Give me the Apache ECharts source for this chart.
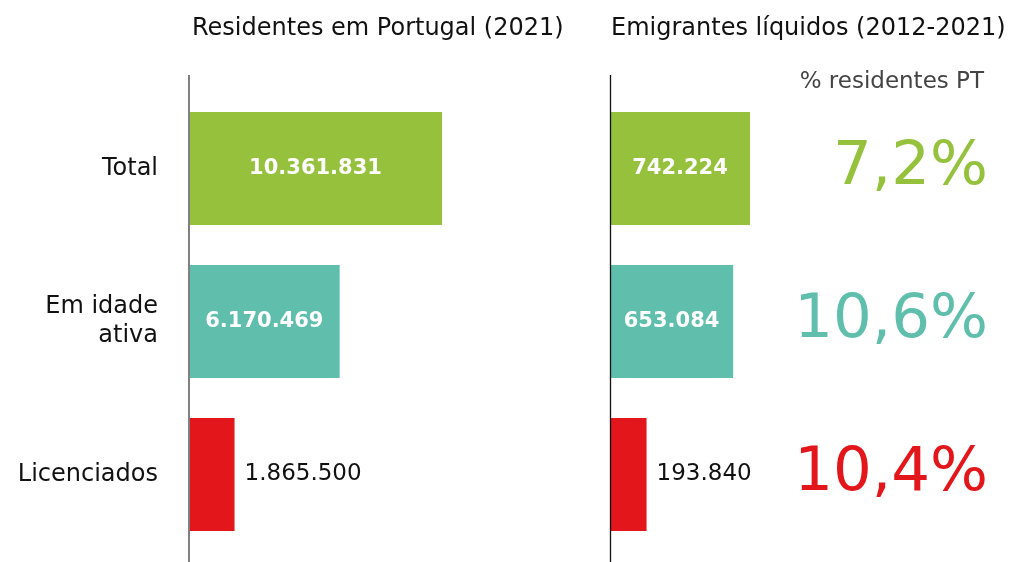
<!DOCTYPE html>
<html>
<head>
<meta charset="utf-8">
<script src="https://cdn.jsdelivr.net/npm/echarts@6/dist/echarts.min.js"></script>
<style>html,body{margin:0;padding:0;background:#fff}#c{width:1015px;height:562px}</style>
</head>
<body>
<div id="c"></div>
<script>
var categories = ['Total', 'Em idade\nativa', 'Licenciados'];
var residentes = [10361831, 6170469, 1865500];
var emigrantes = [742224, 653084, 193840];
var colors = ['#95c13d', '#5fbeac', '#e2161b'];
var titles = ['Residentes em Portugal (2021)', 'Emigrantes líquidos (2012-2021)'];
var pctTitle = '% residentes PT';

var FONT = 'DejaVu Sans';
function fmt(v){ return String(v).replace(/\B(?=(\d{3})+(?!\d))/g, '.'); }
function pct(i){ return (emigrantes[i] / residentes[i] * 100).toFixed(1).replace('.', ','); }

function barData(vals){
  var mx = Math.max.apply(null, vals);
  return vals.map(function(v, i){
    var inside = v > mx * 0.5;
    return {
      value: v,
      itemStyle: { color: colors[i] },
      label: inside ? { position: 'inside', color: '#fff', fontWeight: 'bold', fontSize: 21 }
                    : { position: 'right', distance: 10, color: '#111', fontWeight: 'normal', fontSize: 23 }
    };
  });
}

var chart = echarts.init(document.getElementById('c'), null, { renderer: 'canvas' });
var yBase = { type: 'category', data: categories, inverse: true,
  axisLine: { show: false }, axisTick: { show: false } };
var option = {
  animation: false,
  textStyle: { fontFamily: FONT },
  title: [
    { text: titles[0], left: 187, top: 12, textStyle: { fontFamily: FONT, fontSize: 24, fontWeight: 'normal', color: '#111' } },
    { text: titles[1], left: 606, top: 12, textStyle: { fontFamily: FONT, fontSize: 24, fontWeight: 'normal', color: '#111' } },
    { text: pctTitle, right: 26, top: 66, textStyle: { fontFamily: FONT, fontSize: 23, fontWeight: 'normal', color: '#444' } }
  ],
  grid: [
    { left: 189, top: 92, width: 293, height: 459 },
    { left: 610, top: 92, width: 188.6, height: 459 },
    { left: 780, top: 92, right: 27, height: 459 }
  ],
  xAxis: [
    { gridIndex: 0, type: 'value', min: 0, max: 12000000, show: false },
    { gridIndex: 1, type: 'value', min: 0, max: 1000000, show: false },
    { gridIndex: 2, type: 'value', min: 0, max: 1, show: false }
  ],
  yAxis: [
    Object.assign({ gridIndex: 0, axisLabel: { margin: 31, fontFamily: FONT, fontSize: 24, fontWeight: 'normal', color: '#111', lineHeight: 29, align: 'right' } }, yBase),
    Object.assign({ gridIndex: 1, axisLabel: { show: false } }, yBase),
    Object.assign({ gridIndex: 2, axisLabel: { show: false } }, yBase)
  ],
  series: [
    { type: 'bar', xAxisIndex: 0, yAxisIndex: 0, barWidth: 113, data: barData(residentes),
      label: { show: true, fontFamily: FONT, formatter: function(p){ return fmt(p.value); } } },
    { type: 'bar', xAxisIndex: 1, yAxisIndex: 1, barWidth: 113, data: barData(emigrantes),
      label: { show: true, fontFamily: FONT, formatter: function(p){ return fmt(p.value); } } },
    { type: 'scatter', xAxisIndex: 2, yAxisIndex: 2, symbolSize: 0, silent: true,
      itemStyle: { opacity: 1 },
      data: categories.map(function(c, i){
        return { value: [1, i], label: { color: colors[i] } };
      }),
      label: { show: true, position: 'left', distance: 0, fontFamily: FONT, fontSize: 61, fontWeight: 'normal',
        formatter: function(p){ return pct(p.dataIndex) + '%'; } } }
  ],
  graphic: [
    { type: 'line', shape: { x1: 189, y1: 75, x2: 189, y2: 562 }, style: { stroke: '#808080', lineWidth: 2 }, z: 10 },
    { type: 'line', shape: { x1: 610.5, y1: 75, x2: 610.5, y2: 562 }, style: { stroke: '#111', lineWidth: 1.3 }, z: 10 }
  ]
};
chart.setOption(option);
</script>
</body>
</html>
